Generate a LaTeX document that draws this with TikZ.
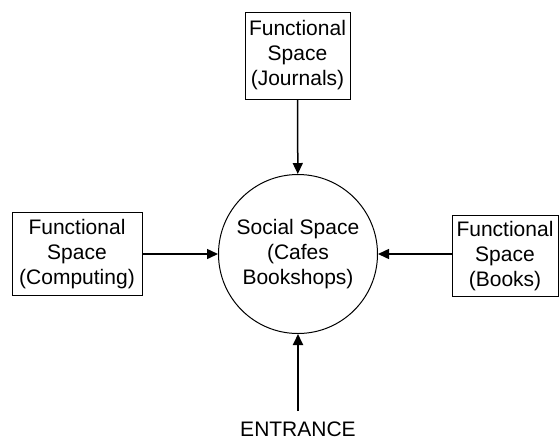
\documentclass[tikz,border=0pt]{standalone}
\usepackage{fontspec}
\setmainfont{Liberation Sans}
\usetikzlibrary{arrows.meta}
\begin{document}
\begin{tikzpicture}[x=1pt,y=-1pt,
  lbl/.style={font=\fontsize{21}{25}\selectfont, align=center},
  fbox/.style={lbl, draw, line width=1pt, inner sep=0pt},
  arr/.style={line width=1.5pt, -{Triangle[length=11pt,width=10pt]}}]
\useasboundingbox (0,0) rectangle (559,440);
\node[lbl, draw, circle, minimum size=159pt, inner sep=0pt, line width=1pt] (soc) at (298,254) {Social Space\\(Cafes\\Bookshops)};
\node[fbox, minimum width=105pt, minimum height=87pt] (top) at (297.5,55.5) {Functional\\Space\\(Journals)};
\node[fbox, minimum width=130pt, minimum height=83pt] (left) at (77,254) {Functional\\Space\\(Computing)};
\node[fbox, minimum width=106pt, minimum height=81pt] (right) at (505,256) {Functional\\Space\\(Books)};
\node[lbl, inner sep=0pt, text height=15pt, text depth=0pt, anchor=north] (ent) at (298,421) {ENTRANCE};
\draw[arr] (top) -- (soc);
\draw[arr] (left) -- (soc);
\draw[arr] (right.west |- soc) -- (soc);
\draw[arr, line width=2pt, shorten <=10pt] (ent.north) -- (soc.south);
\end{tikzpicture}
\end{document}
